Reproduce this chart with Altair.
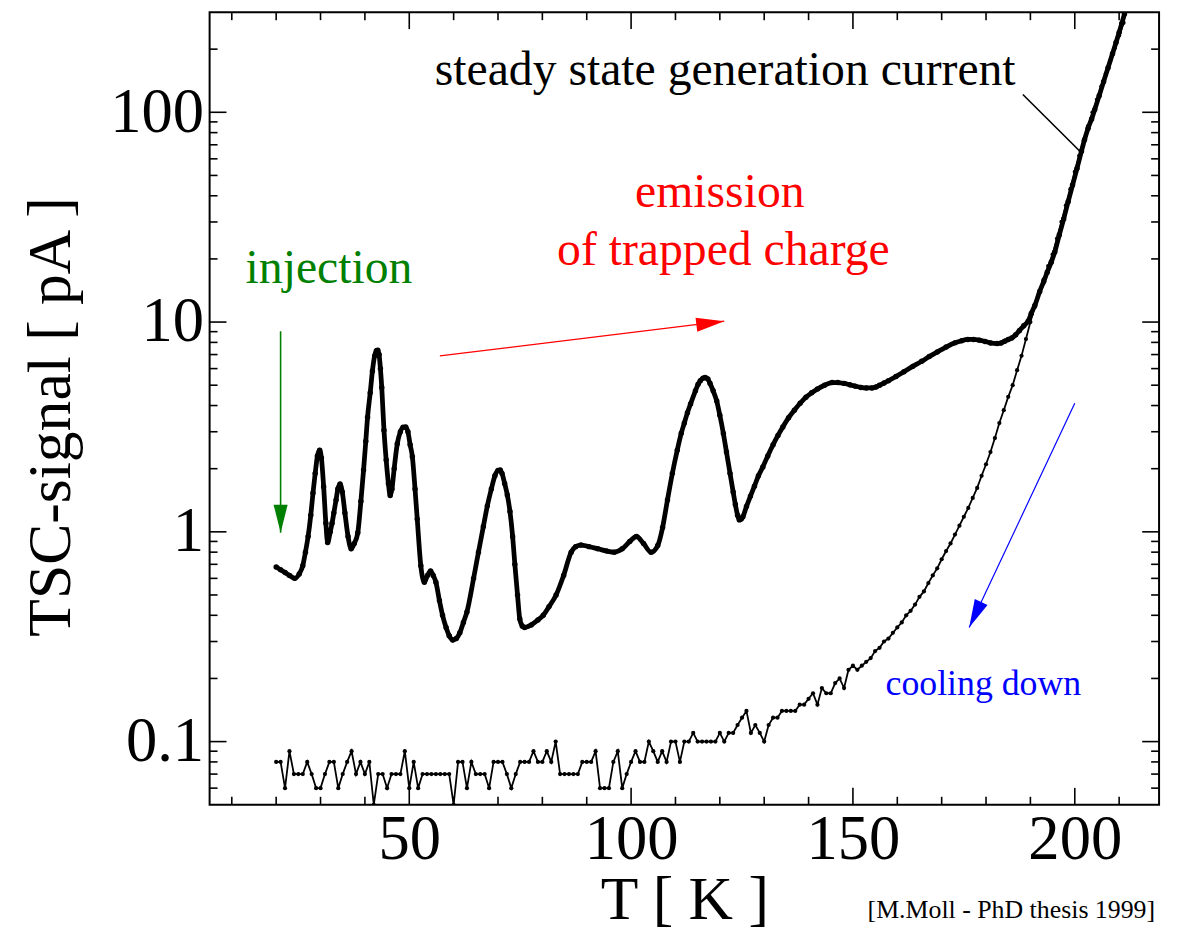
import altair as alt
import pandas as pd

# ---------------- data ----------------
# heating run (TSC signal after injection), T in K, signal in pA
heat_T = [20.0, 21.0, 22.0, 23.0, 24.2, 25.2, 26.0, 26.6, 27.2, 27.8, 28.3, 28.8, 29.3, 29.8, 30.2,
          30.7, 31.2, 31.6, 32.2, 32.6, 33.0, 33.5, 33.9, 34.4, 34.9, 35.5, 36.2, 36.9, 37.6, 38.4,
          39.1, 39.7, 40.2, 40.6, 41.2, 41.7, 42.2, 42.6, 42.9, 43.2, 43.5, 43.8, 44.3, 44.8, 45.3,
          45.7, 46.1, 46.6, 47.3, 48.0, 48.6, 49.2, 49.7, 50.2, 50.7, 51.3, 51.8, 52.6, 53.4, 54.1,
          54.8, 55.4, 56.0, 56.8, 57.5, 58.3, 59.0, 59.8, 60.6, 61.4, 62.2, 63.0, 64.5, 65.6, 66.7,
          67.6, 68.5, 69.3, 70.0, 70.5, 70.9, 71.5, 72.1, 72.7, 73.3, 73.8, 74.4, 74.9, 75.5, 76.0,
          77.5, 79.0, 80.2, 81.5, 83.1, 84.8, 86.5, 87.5, 88.7, 90.5, 92.5, 94.5, 96.2, 98.0, 99.7,
          101.2, 102.8, 104.5, 106.0, 107.1, 108.2, 109.3, 110.4, 111.3, 112.0, 112.7, 113.4, 114.5,
          115.1, 115.6, 116.2, 116.7, 117.3, 117.8, 118.5, 119.3, 120.0, 120.8, 121.5, 122.3, 123.0,
          123.5, 124.0, 124.4, 124.8, 125.2, 126.0, 126.9, 127.8, 128.7, 129.7, 130.8, 132.0, 133.1,
          134.2, 135.5, 136.8, 138.1, 139.4, 140.7, 142.0, 143.6, 145.3, 146.6, 148.0, 149.3, 150.5,
          151.8, 153.0, 154.3, 155.2, 156.0, 157.0, 158.0, 159.7, 161.5, 163.5, 165.5, 167.2, 169.0,
          171.0, 173.0, 174.5, 175.9, 177.2, 178.5, 179.8, 181.0, 182.5, 183.4, 184.2, 185.0, 185.8,
          186.7, 187.5, 188.5, 189.5, 190.2, 191.0, 192.1, 193.0, 193.8, 194.7, 195.5, 196.5, 197.5,
          198.5, 199.5, 200.5, 201.5, 202.2, 203.0, 203.8, 204.5, 205.5, 206.5, 207.5, 208.5, 209.3,
          210.0, 210.6, 211.2]
heat_val = [0.68, 0.66, 0.64, 0.62, 0.60, 0.63, 0.69, 0.80, 0.95, 1.20, 1.53, 1.90, 2.30, 2.45, 2.25,
            1.64, 1.10, 0.89, 1.00, 1.10, 1.23, 1.42, 1.60, 1.69, 1.55, 1.23, 0.95, 0.83, 0.88, 0.99,
            1.40, 1.97, 2.70, 3.52, 4.60, 5.85, 6.90, 7.30, 7.35, 7.00, 6.00, 4.88, 3.05, 2.20, 1.70,
            1.49, 1.60, 2.00, 2.63, 3.00, 3.15, 3.16, 3.00, 2.60, 2.28, 1.60, 1.15, 0.69, 0.575, 0.62,
            0.65, 0.62, 0.575, 0.47, 0.40, 0.35, 0.32, 0.305, 0.31, 0.33, 0.37, 0.415, 0.60, 0.80, 1.06,
            1.33, 1.60, 1.85, 1.96, 1.97, 1.90, 1.70, 1.50, 1.25, 0.95, 0.70, 0.50, 0.385, 0.355, 0.35,
            0.36, 0.38, 0.40, 0.44, 0.50, 0.62, 0.80, 0.85, 0.865, 0.85,
            0.83, 0.81, 0.80, 0.83, 0.90,
            0.95, 0.88, 0.80, 0.86, 1.05, 1.42, 1.90, 2.45, 2.95, 3.30, 3.70, 4.07, 4.70,
            5.05, 5.25, 5.40, 5.44, 5.35, 5.10, 4.70, 4.20, 3.60, 2.94, 2.40, 1.90, 1.55,
            1.35, 1.20, 1.14, 1.15, 1.18, 1.32, 1.48, 1.65, 1.85, 2.04, 2.30, 2.60, 2.88,
            3.16, 3.50, 3.80, 4.10, 4.38, 4.60, 4.80, 5.00, 5.15, 5.15, 5.10, 5.02, 4.95,
            4.88, 4.85, 4.85, 4.90, 5.00, 5.12, 5.25, 5.50, 5.80, 6.15, 6.50, 6.85, 7.20,
            7.60, 7.96, 8.15, 8.26, 8.26, 8.20, 8.08, 7.95, 7.90, 7.95, 8.10, 8.25, 8.40,
            8.70, 9.10, 9.60, 10.1, 11.0, 12.0, 14.0, 15.6, 17.3, 19.3, 21.6, 26.0, 31.0,
            37.5, 45.0, 54.0, 65.2, 74.0, 84.0, 93.0, 103.0, 120.0, 140.0, 163.0, 190.0, 215.0,
            240.0, 265.0, 294.0]

# cooling-down run, sampled every kelvin
cool_T = [20, 21, 22, 23, 24, 25, 26, 27, 28, 29, 30, 31, 32, 33, 34, 35, 36, 37, 38, 39,
          40, 41, 42, 43, 44, 45, 46, 47, 48, 49, 50, 51, 52, 53, 54, 55, 56, 57, 58, 59,
          60, 61, 62, 63, 64, 65, 66, 67, 68, 69, 70, 71, 72, 73, 74, 75, 76, 77, 78, 79,
          80, 81, 82, 83, 84, 85, 86, 87, 88, 89, 90, 91, 92, 93, 94, 95, 96, 97, 98, 99,
          100, 101, 102, 103, 104, 105, 106, 107, 108, 109, 110, 111, 112, 113, 114, 115, 116, 117, 118, 119,
          120, 121, 122, 123, 124, 125, 126, 127, 128, 129, 130, 131, 132, 133, 134, 135, 136, 137, 138, 139,
          140, 141, 142, 143, 144, 145, 146, 147, 148, 149, 150, 151, 152, 153, 154, 155, 156, 157, 158, 159,
          160, 161, 162, 163, 164, 165, 166, 167, 168, 169, 170, 171, 172, 173, 174, 175, 176, 177, 178, 179,
          180, 181, 182, 183, 184, 185, 186, 187, 188, 189, 190, 191, 192, 193, 194, 195, 196, 197, 198, 199,
          200, 201, 202, 203, 204, 205, 206, 207, 208, 209, 210, 211]
cool_val = [0.08, 0.08, 0.06, 0.09, 0.07, 0.07, 0.07, 0.08, 0.07, 0.06,
            0.06, 0.07, 0.08, 0.08, 0.06, 0.07, 0.08, 0.09, 0.07, 0.08,
            0.07, 0.08, 0.05, 0.07, 0.07, 0.06, 0.07, 0.07, 0.07, 0.09,
            0.06, 0.08, 0.06, 0.07, 0.07, 0.07, 0.07, 0.07, 0.07, 0.07,
            0.05, 0.08, 0.08, 0.06, 0.08, 0.07, 0.07, 0.07, 0.06, 0.08,
            0.08, 0.08, 0.07, 0.06, 0.07, 0.08, 0.08, 0.08, 0.09, 0.08,
            0.08, 0.09, 0.08, 0.10, 0.07, 0.07, 0.07, 0.07, 0.07, 0.08,
            0.08, 0.08, 0.09, 0.06, 0.06, 0.06, 0.08, 0.09, 0.06, 0.07,
            0.08, 0.09, 0.08, 0.08, 0.10, 0.09, 0.08, 0.09, 0.08, 0.10,
            0.10, 0.08, 0.10, 0.10, 0.11, 0.10, 0.10, 0.10, 0.10, 0.10,
            0.11, 0.10, 0.11, 0.11, 0.12, 0.13, 0.14, 0.11, 0.12, 0.11,
            0.10, 0.12, 0.13, 0.13, 0.14, 0.14, 0.14, 0.14, 0.15, 0.15,
            0.16, 0.17, 0.15, 0.18, 0.17, 0.17, 0.19, 0.20, 0.18, 0.22,
            0.23, 0.22, 0.23, 0.24, 0.25, 0.27, 0.28, 0.30, 0.31, 0.33,
            0.35, 0.37, 0.40, 0.42, 0.45, 0.49, 0.52, 0.57, 0.62, 0.67,
            0.74, 0.81, 0.88, 0.97, 1.07, 1.18, 1.30, 1.45, 1.62, 1.85,
            2.1, 2.4, 2.8, 3.3, 3.8, 4.4, 5.0, 5.9, 6.9, 8.3,
            10.0, 11.8, 13.8, 16.0, 18.5, 21.0, 25.0, 30.0, 36.0, 43.0,
            52.0, 62.0, 73.0, 86.0, 100.0, 115.0, 133.0, 153.0, 176.0, 202.0,
            232.0, 267.0]

# axis ticks
x_major = [50, 100, 150, 200]
x_minor = [10, 20, 30, 40, 60, 70, 80, 90, 110, 120, 130, 140, 160, 170, 180, 190, 210]
y_major = [0.1, 1, 10, 100]
y_minor = [0.06, 0.07, 0.08, 0.09, 0.2, 0.3, 0.4, 0.5, 0.6, 0.7, 0.8, 0.9,
           2, 3, 4, 5, 6, 7, 8, 9, 20, 30, 40, 50, 60, 70, 80, 90, 200]

# annotations (arrow start / tip in data coordinates)
arrow_name = ["injection", "emission", "cooling", "leader"]
arrow_T0 = [21.0, 56.9, 200.0, 188.3]
arrow_v0 = [9.04, 6.9, 4.1, 121.6]
arrow_T1 = [21.0, 121.0, 176.2, 201.1]
arrow_v1 = [0.99, 10.1, 0.35, 65.4]

text_label = ["steady state generation current", "emission", "of trapped charge",
              "injection", "cooling down"]
text_T = [121.2, 120.0, 120.8, 31.9, 179.4]
text_v = [134.6, 35.3, 18.7, 15.4, 0.167]

# ---------------- chart ----------------
W, H = 956, 798
FONT = "Liberation Serif"
MAJ, MIN = 17, 8

xs = alt.Scale(domain=[5, 219], nice=False, zero=False)
ys = alt.Scale(type="log", domain=[0.05, 300], nice=False)

x_axis = alt.Axis(values=x_major, format="d", ticks=False, domain=False, grid=False,
                  labelFont=FONT, labelFontSize=63, labelColor="black", labelPadding=4,
                  labelOverlap=False, labelFlush=False,
                  title="T [ K ]", titleFont=FONT, titleFontSize=62, titleFontWeight="normal",
                  titleColor="black", titleX=W / 2, titleY=115, titleAlign="center",
                  titleBaseline="alphabetic")
y_axis = alt.Axis(values=y_major, format="~g", ticks=False, domain=False, grid=False,
                  labelFont=FONT, labelFontSize=63, labelColor="black", labelPadding=6,
                  labelOverlap=False, labelFlush=False,
                  title="TSC-signal [ pA ]", titleFont=FONT, titleFontSize=62,
                  titleFontWeight="normal", titleColor="black", titleAngle=270,
                  titleX=-141, titleY=H / 2 + 8, titleAlign="center", titleBaseline="alphabetic")


def X(f):
    return alt.X(f"{f}:Q", scale=xs, axis=x_axis)


def Y(f):
    return alt.Y(f"{f}:Q", scale=ys, axis=y_axis)


heat_df = pd.DataFrame({"T": heat_T, "val": heat_val})
cool_df = pd.DataFrame({"T": cool_T, "val": cool_val})

layers = []


# tick marks on all four sides, pointing inwards
def yticks(vals, length):
    d = pd.DataFrame({"v": vals})
    left = alt.Chart(d).mark_rule(color="black", strokeWidth=1.6).encode(
        y=Y("v"), x=alt.value(0), x2=alt.value(length))
    right = alt.Chart(d).mark_rule(color="black", strokeWidth=1.6).encode(
        y=Y("v"), x=alt.value(W), x2=alt.value(W - length))
    return [left, right]


def xticks(vals, length):
    d = pd.DataFrame({"v": vals})
    bottom = alt.Chart(d).mark_rule(color="black", strokeWidth=1.6).encode(
        x=X("v"), y=alt.value(H), y2=alt.value(H - length))
    top = alt.Chart(d).mark_rule(color="black", strokeWidth=1.6).encode(
        x=X("v"), y=alt.value(0), y2=alt.value(length))
    return [bottom, top]


layers += yticks(y_major, MAJ) + yticks(y_minor, MIN) + xticks(x_major, MAJ) + xticks(x_minor, MIN)

cool = alt.Chart(cool_df).mark_line(
    color="black", strokeWidth=1.8, clip=True,
    point=alt.OverlayMarkDef(filled=True, color="black", size=18, clip=True),
).encode(x=X("T"), y=Y("val"))

heat = alt.Chart(heat_df).mark_line(
    color="black", strokeWidth=4.8, clip=True, interpolate="monotone",
    point=alt.OverlayMarkDef(filled=True, color="black", size=30, clip=True),
).encode(x=X("T"), y=Y("val"))

layers += [cool, heat]

arr_df = pd.DataFrame({"name": arrow_name, "T0": arrow_T0, "v0": arrow_v0,
                       "T1": arrow_T1, "v1": arrow_v1})
HEAD = "M0,0 L0.5,2 L-0.5,2 Z"


def arrow(name, color, width, angle=None):
    base = alt.Chart(arr_df).transform_filter(alt.datum.name == name)
    line = base.mark_rule(color=color, strokeWidth=width).encode(
        x=X("T0"), y=Y("v0"), x2="T1", y2="v1")
    out = [line]
    if angle is not None:
        head = base.mark_point(shape=HEAD, filled=True, color=color, opacity=1,
                               size=800, angle=angle, strokeWidth=0.5).encode(
            x=X("T1"), y=Y("v1"))
        out.append(head)
    return out


layers += arrow("injection", "#008000", 1.6, 180)
layers += arrow("emission", "#ff0000", 1.2, 82.8)
layers += arrow("cooling", "#0000ff", 1.2, 205.2)
layers += arrow("leader", "black", 1.6)

txt_df = pd.DataFrame({"label": text_label, "T": text_T, "val": text_v})


def text(label, color, size):
    return alt.Chart(txt_df).transform_filter(alt.datum.label == label).mark_text(
        font=FONT, fontSize=size, color=color, align="center", baseline="alphabetic"
    ).encode(x=X("T"), y=Y("val"), text="label:N")


layers += [
    text("steady state generation current", "black", 48),
    text("emission", "#ff0000", 48),
    text("of trapped charge", "#ff0000", 48),
    text("injection", "#008000", 48),
    text("cooling down", "#0000ff", 36),
]

credit = alt.Chart(pd.DataFrame({"c": ["[M.Moll - PhD thesis 1999]"]})).mark_text(
    font=FONT, fontSize=26, color="black", align="right", baseline="alphabetic"
).encode(x=alt.value(952), y=alt.value(912), text="c:N")
layers.append(credit)

chart = alt.layer(*layers).properties(
    width=W, height=H,
    autosize=alt.AutoSizeParams(type="none"),
    padding={"left": 203, "top": 1, "right": 10, "bottom": 140},
    background="white",
).configure_view(stroke="black", strokeWidth=2)

chart.save("out.html", embed_options={"renderer": "svg", "actions": False})
